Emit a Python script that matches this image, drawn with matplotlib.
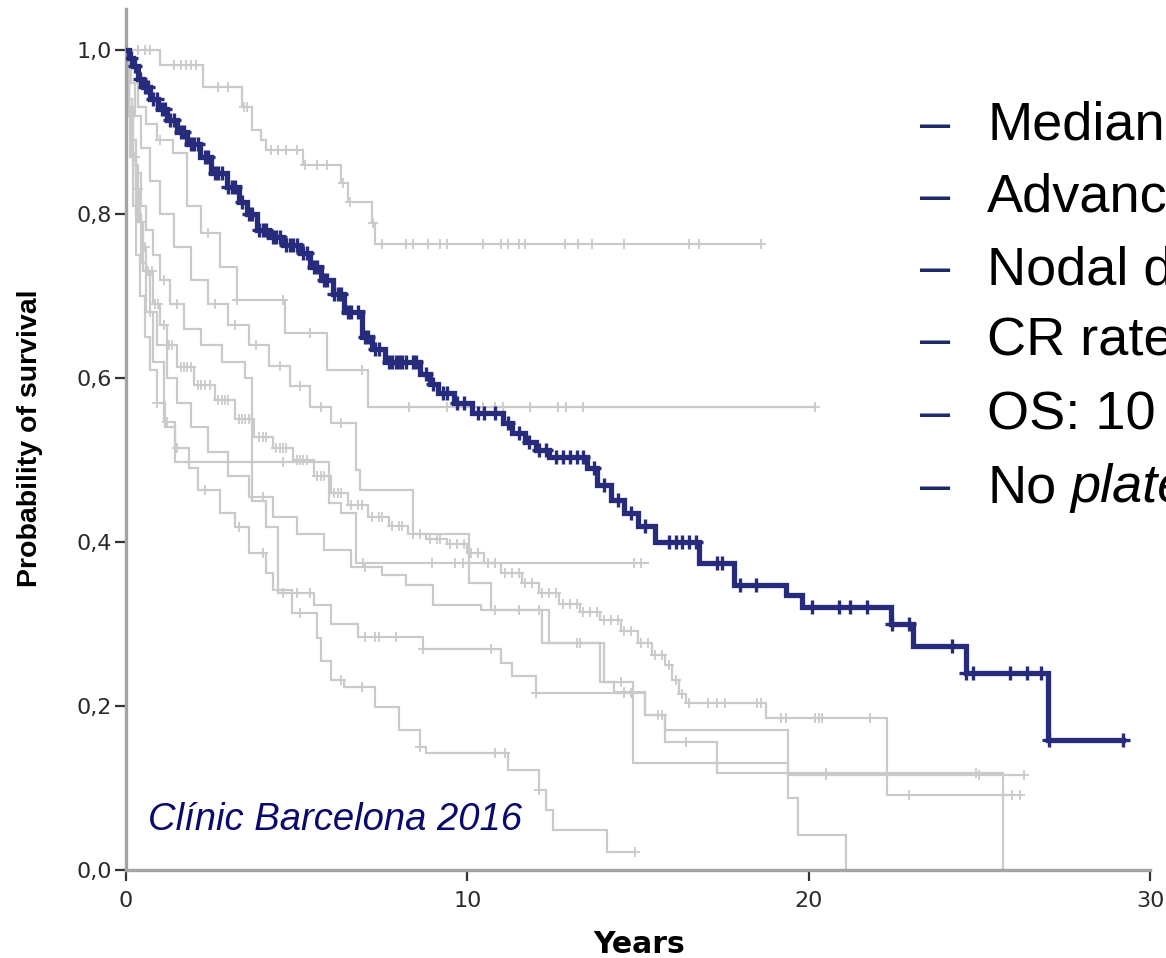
import numpy as np
import matplotlib
matplotlib.use("Agg")
import matplotlib.pyplot as plt

# ---- data: Kaplan-Meier steps ----
# highlighted cohort (navy)
hl_times = [0, 0.1, 0.2, 0.35, 0.5, 0.7, 0.95, 1.2, 1.5, 1.8, 2.17, 2.5, 2.96, 3.3,
            3.55, 3.84, 4.2, 4.6, 5.1, 5.4, 5.7, 6.07, 6.4, 6.9, 7.2, 7.6, 8.6, 8.9,
            9.15, 9.6, 10.15, 11.05, 11.3, 11.7, 12.0, 12.4, 13.5, 13.8, 14.2, 14.6,
            15.0, 15.5, 16.8, 17.8, 19.35, 19.8, 22.4, 23.05, 24.6, 27.0]
hl_surv = [1.0, 0.99, 0.98, 0.965, 0.955, 0.94, 0.928, 0.915, 0.9, 0.885, 0.87, 0.85,
           0.833, 0.815, 0.80, 0.78, 0.772, 0.762, 0.752, 0.735, 0.72, 0.703, 0.68,
           0.65, 0.635, 0.62, 0.605, 0.593, 0.582, 0.57, 0.557, 0.545, 0.533, 0.522,
           0.512, 0.504, 0.49, 0.47, 0.451, 0.435, 0.42, 0.40, 0.374, 0.348, 0.335,
           0.321, 0.300, 0.273, 0.240, 0.159]
hl_end = 29.2
hl_censor = [0.15, 0.25, 0.4, 0.55, 0.65, 0.8, 0.9, 1.05, 1.15, 1.3, 1.4, 1.6, 1.7, 1.9,
             2.0, 2.1, 2.3, 2.4, 2.6, 2.7, 2.8, 3.0, 3.1, 3.2, 3.4, 3.6, 3.7, 3.9, 4.0,
             4.1, 4.3, 4.4, 4.5, 4.7, 4.8, 4.9, 5.0, 5.2, 5.3, 5.5, 5.6, 5.8, 5.9, 6.1,
             6.2, 6.3, 6.5, 6.6, 6.8, 7.0, 7.1, 7.3, 7.4, 7.7, 7.8, 7.9, 8.0, 8.1, 8.2,
             8.4, 8.5, 8.8, 9.0, 9.3, 9.4, 9.7, 9.9, 10.3, 10.5, 10.8, 11.2, 11.5, 11.8,
             12.1, 12.3, 12.6, 12.8, 13.0, 13.2, 13.4, 13.7, 14.0, 14.4, 14.8, 15.2,
             15.9, 16.1, 16.3, 16.5, 16.7, 17.3, 17.45, 18.0, 18.45, 20.1, 20.9, 21.2,
             21.7, 22.45, 22.95, 24.2, 24.6, 24.8, 25.9, 26.4, 26.8, 27.05, 29.2]

# other cohorts (grey)
g1_times = [0, 1.0, 2.26, 3.4, 3.7, 3.95, 4.1, 5.2, 6.3, 6.5, 7.2, 7.3]
g1_surv = [1.0, 0.982, 0.955, 0.931, 0.902, 0.89, 0.878, 0.86, 0.838, 0.815, 0.789, 0.764]
g1_end = 18.6
g1_censor = [0.35, 0.55, 0.7, 1.4, 1.6, 1.75, 1.9, 2.05, 2.7, 3.0, 3.45, 3.55, 4.25,
             4.45, 4.7, 5.0, 5.25, 5.6, 5.9, 6.35, 6.55, 7.25, 7.5, 8.2, 8.4, 8.85, 9.2,
             9.4, 10.45, 11.0, 11.2, 11.5, 11.7, 12.85, 13.25, 13.65, 14.6, 16.5, 16.8,
             18.6]

g2_times = [0, 0.15, 0.35, 0.6, 0.9, 1.39, 1.8, 2.2, 2.75, 3.25, 4.65, 5.9, 7.1]
g2_surv = [1.0, 0.96, 0.93, 0.91, 0.89, 0.874, 0.81, 0.777, 0.735, 0.695, 0.655, 0.61, 0.565]
g2_end = 20.2
g2_censor = [1.0, 2.4, 3.25, 4.6, 5.4, 6.9, 8.3, 9.4, 10.45, 10.8, 11.05, 11.85, 12.65,
             12.9, 13.4, 20.2]

g3_times = [0, 0.08, 0.18, 0.3, 0.45, 0.6, 0.8, 1.1, 1.45, 5.95, 6.3, 6.75]
g3_surv = [1.0, 0.93, 0.87, 0.8, 0.74, 0.68, 0.62, 0.546, 0.498, 0.447, 0.435, 0.374]
g3_end = 15.3
g3_censor = [0.7, 1.2, 4.6, 6.95, 8.97, 9.65, 9.88, 14.87, 15.1]

g4_times = [0, 0.05, 0.1, 0.2, 0.3, 0.4, 0.5, 0.6, 0.8, 1.0, 1.2, 1.5, 2.0, 2.6, 3.2,
            3.75, 4.3, 4.9, 5.5, 6.0, 6.5, 7.1, 7.7, 8.25, 8.8, 9.4, 10.0, 10.5, 11.0,
            11.6, 12.1, 12.7, 13.3, 13.9, 14.5, 15.0, 15.4, 15.8, 16.0, 16.2, 16.4,
            18.75, 22.3]
g4_surv = [1.0, 0.96, 0.92, 0.87, 0.83, 0.79, 0.76, 0.73, 0.69, 0.665, 0.64, 0.613,
           0.592, 0.573, 0.55, 0.528, 0.515, 0.50, 0.48, 0.46, 0.445, 0.43, 0.42, 0.41,
           0.404, 0.398, 0.386, 0.374, 0.362, 0.35, 0.338, 0.325, 0.315, 0.305, 0.292,
           0.277, 0.262, 0.25, 0.232, 0.215, 0.204, 0.185, 0.091]
g4_end = 26.2
g4_censor = [0.07, 0.15, 0.25, 0.35, 0.45, 0.55, 0.65, 0.75, 0.85, 0.95, 1.1, 1.25,
             1.35, 1.6, 1.7, 1.8, 1.9, 2.1, 2.2, 2.3, 2.45, 2.7, 2.8, 2.9, 3.0, 3.3, 3.4,
             3.5, 3.6, 3.9, 4.0, 4.1, 4.4, 4.5, 4.6, 4.7, 5.0, 5.1, 5.2, 5.3, 5.6, 5.7,
             5.8, 6.1, 6.2, 6.3, 6.6, 6.8, 6.9, 7.2, 7.4, 7.5, 7.8, 8.0, 8.1, 8.4, 8.6,
             8.9, 9.1, 9.2, 9.5, 9.7, 9.9, 10.1, 10.3, 10.6, 10.8, 11.1, 11.3, 11.5,
             11.7, 11.9, 12.2, 12.4, 12.6, 12.8, 13.0, 13.2, 13.4, 13.6, 13.8, 14.0,
             14.2, 14.4, 14.6, 14.8, 15.1, 15.3, 15.5, 15.7, 15.9, 16.1, 16.3, 16.5,
             17.05, 17.3, 17.55, 18.5, 18.6, 19.2, 19.35, 20.2, 20.3, 20.4, 21.8, 22.95,
             25.95, 26.2]

g5_times = [0, 0.1, 0.25, 0.45, 0.7, 1.0, 1.4, 1.9, 2.4, 3.0, 3.6, 4.2, 4.8, 5.4, 6.0,
            6.75, 6.85, 8.4, 10.05, 10.7, 12.4, 14.0, 14.3, 15.2, 15.8, 17.3, 25.7]
g5_surv = [1.0, 0.96, 0.92, 0.88, 0.84, 0.8, 0.76, 0.72, 0.69, 0.665, 0.64, 0.615, 0.59,
           0.565, 0.545, 0.488, 0.463, 0.41, 0.35, 0.317, 0.277, 0.229, 0.217, 0.189,
           0.156, 0.118, 0.0]
g5_end = 25.7
g5_censor = [2.6, 3.2, 3.8, 4.5, 5.1, 5.7, 6.3, 8.4, 12.1, 13.2, 14.6, 15.6, 16.4, 20.5, 24.9]

g6_times = [0, 0.08, 0.2, 0.35, 0.5, 0.7, 0.9, 1.2, 1.5, 1.9, 2.4, 3.0, 3.6, 4.3, 5.0,
            5.8, 6.6, 7.5, 8.2, 9.0, 10.4, 12.2, 13.9, 14.85, 19.4]
g6_surv = [1.0, 0.93, 0.86, 0.79, 0.73, 0.68, 0.64, 0.6, 0.57, 0.54, 0.51, 0.48, 0.455,
           0.43, 0.41, 0.39, 0.37, 0.36, 0.348, 0.323, 0.317, 0.277, 0.229, 0.13, 0.116]
g6_end = 26.3
g6_censor = [4.0, 7.0, 10.8, 11.5, 13.3, 14.5, 20.5, 25.0, 26.3]

g7_times = [0, 0.08, 0.18, 0.3, 0.45, 0.6, 0.8, 1.0, 1.3, 1.7, 2.2, 2.8, 3.5, 3.7, 4.1,
            4.45, 5.5, 6.0, 6.8, 8.7, 11.0, 11.3, 12.0, 15.2, 15.8, 19.4, 19.7, 21.1]
g7_surv = [1.0, 0.94, 0.89, 0.85, 0.81, 0.78, 0.75, 0.72, 0.69, 0.66, 0.64, 0.62, 0.6,
           0.45, 0.418, 0.338, 0.323, 0.30, 0.284, 0.27, 0.252, 0.236, 0.216, 0.189,
           0.171, 0.088, 0.043, 0.0]
g7_end = 21.1
g7_censor = [1.1, 1.5, 4.6, 5.0, 5.4, 7.0, 7.3, 7.4, 7.9, 8.7, 10.7, 12.0, 14.6, 14.8, 15.7]

g8_times = [0, 0.05, 0.12, 0.2, 0.3, 0.42, 0.55, 0.7, 0.9, 1.15, 1.45, 1.85, 2.1, 2.75,
            3.2, 3.6, 4.1, 4.3, 4.85, 5.6, 5.7, 6.0, 6.4, 7.3, 8.0, 8.6, 8.8, 11.2, 12.1,
            12.3, 12.5, 14.1]
g8_surv = [1.0, 0.93, 0.87, 0.81, 0.75, 0.7, 0.65, 0.61, 0.57, 0.54, 0.515, 0.49, 0.463,
           0.435, 0.418, 0.386, 0.362, 0.341, 0.313, 0.283, 0.255, 0.232, 0.223, 0.199,
           0.171, 0.15, 0.143, 0.122, 0.098, 0.073, 0.049, 0.022]
g8_end = 14.9
g8_censor = [0.9, 1.5, 2.3, 3.3, 4.0, 5.1, 6.3, 6.9, 8.6, 10.8, 11.1, 12.1, 14.9]

x_ticks = [0, 10, 20, 30]
y_ticks = [0.0, 0.2, 0.4, 0.6, 0.8, 1.0]
y_ticklabels = ["0,0", "0,2", "0,4", "0,6", "0,8", "1,0"]

bullets = ["Median", "Advanced", "Nodal disease", "CR rate", "OS: 10"]
last_bullet = ("No", "plateau")
footnote = "Clínic Barcelona 2016"

GRAY = "#cacaca"
NAVY = "#272b7b"
TEXT_NAVY = "#0a0a6c"
BULLET = "#1c2a66"
W, H = 1166, 958


def km(ax, times, surv, end, censor, color, lw, ms, mew, z):
    xs = list(times) + [end]
    ys = list(surv) + [surv[-1]]
    ax.step(xs, ys, where="post", color=color, lw=lw, zorder=z, solid_joinstyle="miter")
    idx = np.searchsorted(times, censor, side="right") - 1
    cy = np.asarray(surv)[idx]
    ax.plot(censor, cy, ls="none", marker="+", ms=ms, mew=mew, color=color, zorder=z)


fig = plt.figure(figsize=(W / 100, H / 100), dpi=100)
ax = fig.add_axes([126 / W, 1 - 870 / H, 1024 / W, 861 / H])

grey = [
    (g1_times, g1_surv, g1_end, g1_censor),
    (g2_times, g2_surv, g2_end, g2_censor),
    (g3_times, g3_surv, g3_end, g3_censor),
    (g4_times, g4_surv, g4_end, g4_censor),
    (g5_times, g5_surv, g5_end, g5_censor),
    (g6_times, g6_surv, g6_end, g6_censor),
    (g7_times, g7_surv, g7_end, g7_censor),
    (g8_times, g8_surv, g8_end, g8_censor),
]
for t, s, e, c in grey:
    km(ax, t, s, e, c, GRAY, 1.6, 7.5, 1.3, 2)
km(ax, hl_times, hl_surv, hl_end, hl_censor, NAVY, 3.8, 10, 2.4, 3)

ax.set_xlim(0, 30)
ax.set_ylim(0, 1.05)
for side in ("top", "right"):
    ax.spines[side].set_visible(False)
for side in ("left", "bottom"):
    ax.spines[side].set_color("#a4a4a4")
    ax.spines[side].set_linewidth(2.4)
ax.set_xticks(x_ticks)
ax.set_yticks(y_ticks)
ax.set_yticklabels(y_ticklabels)
ax.tick_params(axis="both", direction="out", length=8, width=1.6, color="#333333",
               labelsize=16, labelcolor="#2a2a2a")
ax.tick_params(axis="y", pad=2)
ax.tick_params(axis="x", pad=7)

fig.text(30 / W, 1 - 438 / H, "Probability of survival", rotation=90,
         ha="center", va="center", fontsize=20.5, fontweight="bold",
         family=["Liberation Sans", "DejaVu Sans"])
fig.text(639 / W, 1 - 953 / H, "Years", ha="center", va="baseline",
         fontsize=21.5, fontweight="bold", family="DejaVu Sans")

ax.text(148 / W, 1 - 830 / H, footnote, transform=fig.transFigure, fontsize=27.5,
        style="italic", color=TEXT_NAVY, family="Liberation Sans", va="baseline")

baselines = [140, 212, 284, 356, 429, 502]
for i, label in enumerate(bullets + [last_bullet[0]]):
    yb = 1 - baselines[i] / H
    fig.text(920 / W, yb, "\u2013", fontsize=39, color=BULLET,
             family="Liberation Sans", va="baseline")
    fig.text(987 / W, yb, label, fontsize=39, color="black",
             family="Liberation Sans", va="baseline")
fig.text(1070 / W, 1 - baselines[-1] / H, last_bullet[1], fontsize=39, color="black",
         style="italic", family="Liberation Sans", va="baseline")

fig.savefig("out.png", dpi=100)
